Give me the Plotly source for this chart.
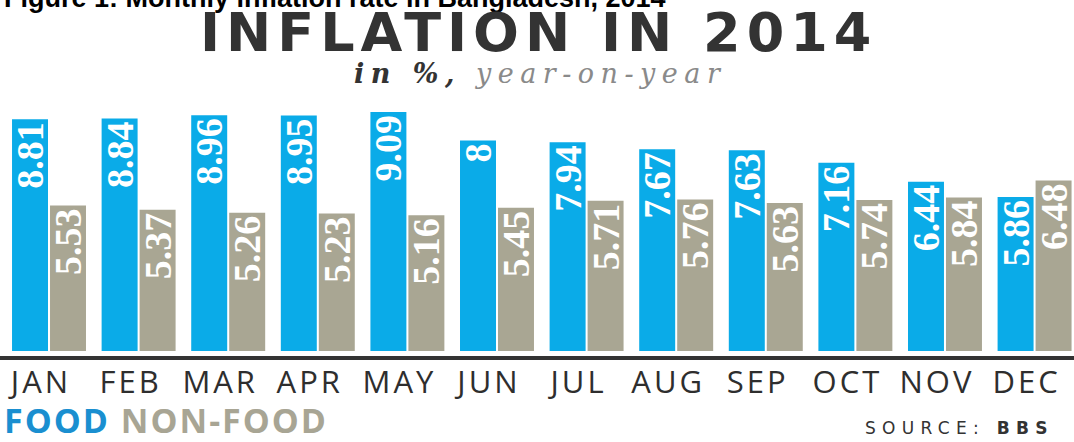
import plotly.graph_objects as go

months = ["JAN", "FEB", "MAR", "APR", "MAY", "JUN", "JUL", "AUG", "SEP", "OCT", "NOV", "DEC"]
food = [8.81, 8.84, 8.96, 8.95, 9.09, 8.00, 7.94, 7.67, 7.63, 7.16, 6.44, 5.86]
nonfood = [5.53, 5.37, 5.26, 5.23, 5.16, 5.45, 5.71, 5.76, 5.63, 5.74, 5.84, 6.48]

W, H = 1074, 442
M_T, M_B = 88, 86
PH = H - M_T - M_B


def px_x(p):
    return p / W


def px_y(p):
    return (H - M_B - p) / PH


BLUE = "#0AABE8"
GREY = "#A9A693"
BAR_FONT = dict(family="Liberation Serif", size=38, color="white", weight="bold")

fig = go.Figure()
for name, vals, col in (("FOOD", food, BLUE), ("NON-FOOD", nonfood, GREY)):
    fig.add_bar(x=months, y=vals, name=name, marker=dict(color=col, line_width=0),
                text=[f"{v:g}" for v in vals], texttemplate="%{text}",
                textposition="inside", insidetextanchor="end",
                textangle=-90, textfont=BAR_FONT, insidetextfont=BAR_FONT,
                hoverinfo="x+y")

fig.update_layout(
    width=W, height=H,
    margin=dict(l=0, r=0, t=M_T, b=M_B),
    barmode="group", bargap=0.152, bargroupgap=0.053,
    plot_bgcolor="white", paper_bgcolor="white",
    showlegend=False,
    uniformtext=dict(minsize=38, mode="show"),
)
fig.update_xaxes(
    type="category", range=[-0.547, 11.44],
    showline=True, linecolor="#333333", linewidth=4,
    ticks="", showgrid=False, zeroline=False,
    tickvals=months,
    ticktext=[f"<span style='letter-spacing:3px'>{m}</span>" for m in months],
    tickfont=dict(family="Open Sans", size=31, color="#2e2e2e"),
    ticklabelshift=-8, ticklabelstandoff=-4,
)
fig.update_yaxes(range=[-0.19, 10.0], visible=False)

ann = []
ann.append(dict(text="Figure 1: Monthly inflation rate in Bangladesh, 2014",
                x=px_x(2), y=px_y(15), xref="paper", yref="paper",
                xanchor="left", yanchor="bottom", showarrow=False,
                font=dict(family="Liberation Sans", size=27, color="black", weight="bold")))
ann.append(dict(text="<span style='letter-spacing:6px'>INFLATION IN 2014</span>",
                x=px_x(538), y=px_y(33), xref="paper", yref="paper",
                xanchor="center", yanchor="middle", showarrow=False,
                font=dict(family="DejaVu Sans", size=54, color="#333333", weight="bold")))
ann.append(dict(text="<span style='letter-spacing:6.5px'><b>in %,</b> <span style='color:#8a8a8a'>year-on-year</span></span>",
                x=px_x(540), y=px_y(74), xref="paper", yref="paper",
                xanchor="center", yanchor="middle", showarrow=False,
                font=dict(family="DejaVu Serif", size=27, color="#333333", style="italic")))
ann.append(dict(text="<span style='letter-spacing:2px'><span style='color:#1A8FD0'>FOOD</span> <span style='color:#A8A594'>NON-FOOD</span></span>",
                x=px_x(2), y=px_y(420), xref="paper", yref="paper",
                xanchor="left", yanchor="middle", showarrow=False,
                font=dict(family="Open Sans", size=34, color="#1A8FD0", weight="bold")))
ann.append(dict(text="<span style='letter-spacing:6.3px'>SOURCE: <b>BBS</b></span>",
                x=px_x(1056), y=px_y(428), xref="paper", yref="paper",
                xanchor="right", yanchor="middle", showarrow=False,
                font=dict(family="DejaVu Sans", size=17, color="#333333")))
fig.update_layout(annotations=ann)

fig.write_html("out.html")
